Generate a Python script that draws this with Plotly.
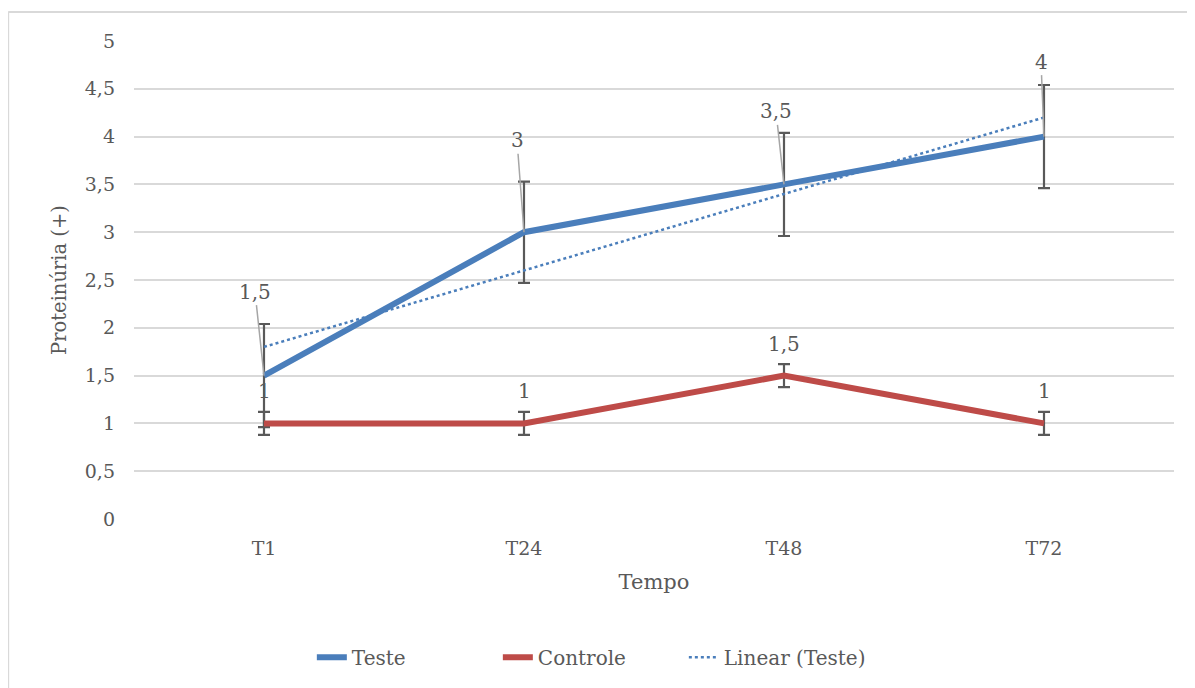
import numpy as np
import plotly.graph_objects as go

categories = ["T1", "T24", "T48", "T72"]
teste = [1.5, 3, 3.5, 4]
teste_err = [0.54, 0.53, 0.54, 0.54]
controle = [1, 1, 1.5, 1]
controle_err = [0.12, 0.12, 0.12, 0.12]
teste_labels = ["1,5", "3", "3,5", "4"]
controle_labels = ["1", "1", "1,5", "1"]
y_ticks = [0, 0.5, 1, 1.5, 2, 2.5, 3, 3.5, 4, 4.5, 5]
y_ticktext = ["0", "0,5", "1", "1,5", "2", "2,5", "3", "3,5", "4", "4,5", "5"]

FONT = "DejaVu Serif, Liberation Serif, serif"
GRAY = "#595959"
BLUE = "#4A7EBB"
RED = "#BE4B48"
ERR = "#595959"

# Linear trend of Teste
xs = np.arange(1, len(teste) + 1)
slope, intercept = np.polyfit(xs, teste, 1)
trend = list(slope * xs + intercept)

fig = go.Figure()
fig.add_trace(go.Scatter(
    x=categories, y=teste, mode="lines", name="Teste",
    line=dict(color=BLUE, width=6),
    error_y=dict(type="data", array=teste_err, color=ERR, thickness=2.2, width=6),
))
fig.add_trace(go.Scatter(
    x=categories, y=controle, mode="lines", name="Controle",
    line=dict(color=RED, width=6),
    error_y=dict(type="data", array=controle_err, color=ERR, thickness=2.2, width=6),
))
fig.add_trace(go.Scatter(
    x=categories, y=trend, mode="lines", name="Linear (Teste)",
    line=dict(color=BLUE, width=2.5, dash="dot"),
))

# Data labels for Teste with leader lines
offsets = [(-9, -84), (-7, -92), (-8, -73), (-3, -75)]
for c, v, lab, (ax, ay) in zip(categories, teste, teste_labels, offsets):
    fig.add_annotation(
        x=c, y=v, text=lab, showarrow=True, arrowhead=0, arrowwidth=1.5,
        arrowcolor="#A6A6A6", ax=ax, ay=ay, standoff=0,
        font=dict(family=FONT, size=20, color=GRAY),
    )
# Data labels for Controle
for c, v, lab in zip(categories, controle, controle_labels):
    fig.add_annotation(
        x=c, y=v, text=lab, showarrow=False, yshift=32,
        font=dict(family=FONT, size=20, color=GRAY),
    )

# Chart border (top and left)
fig.add_shape(type="line", xref="paper", yref="paper",
              x0=-0.121, x1=1.2, y0=1.0607, y1=1.0607,
              line=dict(color="#D9D9D9", width=2))
fig.add_shape(type="line", xref="paper", yref="paper",
              x0=-0.121, x1=-0.121, y0=-0.5, y1=1.0607,
              line=dict(color="#D9D9D9", width=2))

fig.update_layout(
    width=1195, height=688,
    margin=dict(l=126, r=29, t=33, b=177),
    paper_bgcolor="white", plot_bgcolor="white",
    font=dict(family=FONT, size=19, color=GRAY),
    showlegend=True,
    legend=dict(orientation="h", x=0.171, xanchor="left", y=-0.289, yanchor="middle",
                entrywidth=141, entrywidthmode="pixels",
                font=dict(family=FONT, size=20, color=GRAY)),
    xaxis=dict(
        title=dict(text="Tempo", font=dict(family=FONT, size=21, color=GRAY), standoff=16),
        showgrid=False, zeroline=False, showline=False, ticks="",
        ticklabelstandoff=16,
        tickfont=dict(family=FONT, size=19, color=GRAY),
        range=[-0.5, 3.5],
    ),
    yaxis=dict(
        title=dict(text="Proteinúria (+)", font=dict(family=FONT, size=19.5, color=GRAY), standoff=12),
        range=[0, 5], tickvals=y_ticks, ticktext=y_ticktext,
        showgrid=True, gridcolor="#D9D9D9", gridwidth=2, zeroline=False, showline=False,
        ticks="", ticklabelstandoff=18,
        tickfont=dict(family=FONT, size=19, color=GRAY),
    ),
)

fig.write_html("out.html")
